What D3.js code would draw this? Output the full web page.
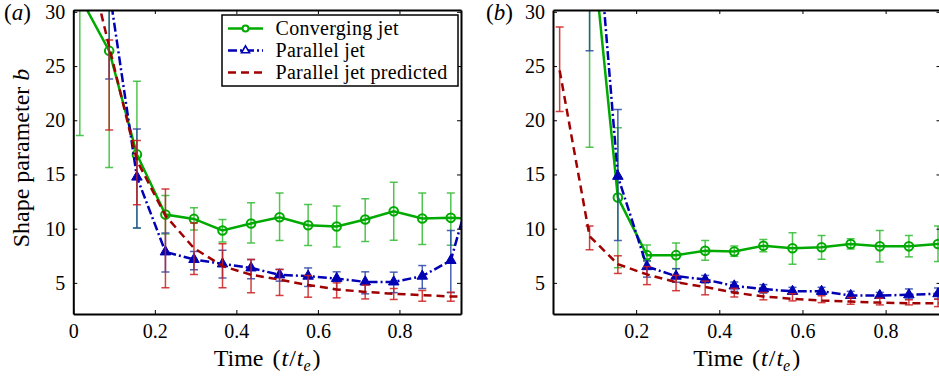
<!DOCTYPE html>
<html>
<head>
<meta charset="utf-8">
<script src="https://cdn.jsdelivr.net/npm/d3@7"></script>
<style>
  html, body { margin: 0; padding: 0; background: #fff; }
  svg { display: block; }
  svg text { font-family: "Liberation Serif", "Times New Roman", Tinos, "DejaVu Serif", serif; }
</style>
</head>
<body>
<svg id="chart" width="939" height="380"></svg>
<script>
// Sampling times (t / t_e), shared by every series
const times = [0.016, 0.088, 0.156, 0.226, 0.296, 0.366, 0.436, 0.506, 0.576, 0.646, 0.716, 0.786, 0.856, 0.926, 0.996];

// Panel (a)
const convA   = [31.4, 26.4, 16.85, 11.3, 10.9, 9.83, 10.48, 11.06, 10.32, 10.2, 10.85, 11.6, 10.94, 11.0, 10.9];
const convALo = [18.6, 15.65, 10.07, 9.5, 9.88, 8.76, 8.69, 8.91, 8.45, 8.32, 8.82, 8.94, 8.54, 8.48, null];
const convAHi = [44.0, 37.2, 23.6, 13.06, 11.92, 10.85, 12.38, 13.3, 12.23, 12.1, 12.75, 14.29, 13.3, 13.3, null];
const parA    = [null, 32.1, 14.76, 7.86, 7.16, 6.75, 6.38, 5.74, 5.62, 5.4, 5.09, 5.09, 5.62, 7.07, 16.4];
const parALo  = [null, 23.8, 10.07, 6.0, 6.2, 5.46, 5.37, 5.16, 4.67, 4.39, 3.99, 4.1, 4.48, 4.1, null];
const parAHi  = [null, 40.4, 19.2, 9.6, 7.9, 8.0, 7.16, 6.24, 6.38, 6.02, 6.02, 5.99, 6.6, 9.83, null];
const predA   = [38.0, 26.8, 16.3, 11.2, 8.2, 6.55, 5.75, 5.3, 4.8, 4.4, 4.17, 4.0, 3.87, 3.75, 3.7];
const predALo = [null, 19.1, 12.2, 4.54, 5.77, 4.54, 4.08, 3.84, 3.68, 3.62, 3.52, 3.47, 3.31, 3.31, null];
const predAHi = [null, 27.4, 18.13, 13.67, 10.53, 8.6, 7.16, 6.24, 5.68, 5.0, 4.79, 4.48, 4.3, 4.14, null];

// Panel (b)
const convB   = [null, 38.8, 12.87, 7.56, 7.56, 7.96, 7.9, 8.43, 8.19, 8.28, 8.59, 8.37, 8.37, 8.59, 8.7];
const convBLo = [null, 17.5, 6.4, 7.03, 6.31, 7.09, 7.45, 7.87, 6.72, 7.18, 8.12, 6.93, 7.4, 6.97, null];
const convBHi = [null, 60.0, 19.3, 8.5, 8.68, 8.9, 8.4, 9.0, 9.62, 9.37, 9.06, 9.84, 9.37, 10.25, null];
const parB    = [null, 46.7, 14.83, 6.5, 5.62, 5.31, 4.72, 4.44, 4.22, 4.22, 3.84, 3.84, 3.9, 4.0, 4.0];
const parBLo  = [null, 26.4, 8.9, 5.53, 5.06, 5.0, 4.22, 4.06, 3.97, 3.9, 3.59, 3.59, 3.5, 3.5, null];
const parBHi  = [null, 67.0, 21.0, 7.03, 6.31, 5.69, 5.08, 4.84, 4.59, 4.59, 4.22, 4.12, 4.44, 4.53, null];
const predB   = [24.6, 9.3, 6.72, 5.78, 5.06, 4.62, 4.1, 3.75, 3.53, 3.37, 3.28, 3.18, 3.12, 3.12, 3.1];
const predBLo = [20.8, 8.06, 5.87, 4.84, 4.28, 3.9, 3.7, 3.44, 3.34, 3.18, 3.03, 2.97, 2.97, 2.81, null];
const predBHi = [28.6, 10.25, 7.5, 6.5, 5.69, 5.16, 4.5, 4.12, 4.0, 3.81, 3.65, 3.59, 3.44, 3.5, null];

// Axis ticks and labels
const yTicks = [5, 10, 15, 20, 25, 30];
const xTicksA = [0, 0.2, 0.4, 0.6, 0.8];
const xTicksB = [0.2, 0.4, 0.6, 0.8];
const seriesNames = ["Converging jet", "Parallel jet", "Parallel jet predicted"];
const panelLetters = ["a", "b"];

const svg = d3.select("#chart");

const COL = {
  conv: "#00aa00", convBar: "#33bb33",
  par: "#0000b4", parBar: "#2a48a8",
  pred: "#a00000", predBar: "#cc1f1f"
};

const yDomain = [2.13, 30.17];
const yRange = [314, 10];

const panels = [
  { letter: panelLetters[0], left: 73.3, right: 461, xMax: 0.951, xTicks: xTicksA,
    conv: [convA, convALo, convAHi], par: [parA, parALo, parAHi], pred: [predA, predALo, predAHi],
    labelX: 4, showYTitle: true },
  { letter: panelLetters[1], left: 553, right: 940.5, xMax: 0.932, xTicks: xTicksB,
    conv: [convB, convBLo, convBHi], par: [parB, parBLo, parBHi], pred: [predB, predBLo, predBHi],
    labelX: 486, showYTitle: false }
];

function zip(vals, lo, hi) {
  return times.map((t, i) => ({ t, v: vals[i], lo: lo[i], hi: hi[i] }));
}

panels.forEach((p, pi) => {
  const x = d3.scaleLinear().domain([0, p.xMax]).range([p.left, p.right]);
  const y = d3.scaleLinear().domain(yDomain).range(yRange);
  const g = svg.append("g");

  const clipId = "clip" + pi;
  svg.append("clipPath").attr("id", clipId)
    .append("rect").attr("x", p.left).attr("y", yRange[1])
    .attr("width", p.right - p.left).attr("height", yRange[0] - yRange[1]);

  const plot = g.append("g").attr("clip-path", `url(#${clipId})`);

  const line = d3.line().defined(d => d.v != null).x(d => x(d.t)).y(d => y(d.v));

  function errorBars(data, color) {
    const eb = plot.append("g").attr("stroke", color).attr("stroke-width", 1.5)
      .attr("stroke-opacity", 0.85).attr("fill", "none");
    data.filter(d => d.lo != null && d.hi != null).forEach(d => {
      const cx = x(d.t);
      eb.append("line").attr("x1", cx).attr("x2", cx).attr("y1", y(d.lo)).attr("y2", y(d.hi));
      eb.append("line").attr("x1", cx - 4).attr("x2", cx + 4).attr("y1", y(d.lo)).attr("y2", y(d.lo));
      eb.append("line").attr("x1", cx - 4).attr("x2", cx + 4).attr("y1", y(d.hi)).attr("y2", y(d.hi));
    });
  }

  const conv = zip(...p.conv), par = zip(...p.par), pred = zip(...p.pred);

  // Converging jet: solid green with open circles
  errorBars(conv, COL.convBar);
  plot.append("path").datum(conv).attr("d", line)
    .attr("fill", "none").attr("stroke", COL.conv).attr("stroke-width", 2.5);
  plot.append("g").selectAll("circle").data(conv.filter(d => d.v != null)).join("circle")
    .attr("cx", d => x(d.t)).attr("cy", d => y(d.v)).attr("r", 4.3)
    .attr("fill", "none").attr("stroke", COL.conv).attr("stroke-width", 2);

  // Parallel jet: blue dash-dot with filled triangles
  errorBars(par, COL.parBar);
  plot.append("path").datum(par).attr("d", line)
    .attr("fill", "none").attr("stroke", COL.par).attr("stroke-width", 2.5)
    .attr("stroke-dasharray", "9,3,2,3");
  const tri = d3.symbol().type(d3.symbolTriangle).size(48);
  plot.append("g").selectAll("path").data(par.filter(d => d.v != null)).join("path")
    .attr("d", tri).attr("transform", d => `translate(${x(d.t)},${y(d.v)})`)
    .attr("fill", COL.par).attr("stroke", COL.par).attr("stroke-width", 1);

  // Predicted: dark red dashed
  errorBars(pred, COL.predBar);
  plot.append("path").datum(pred).attr("d", line)
    .attr("fill", "none").attr("stroke", COL.pred).attr("stroke-width", 2.5)
    .attr("stroke-dasharray", "8,5");

  // Axes: ticks point inward on all four sides
  const fmt = d => (d === 0 ? "0" : d3.format(".1f")(d));
  const axB = g.append("g").attr("transform", `translate(0,${yRange[0]})`)
    .call(d3.axisBottom(x).tickValues(p.xTicks).tickSizeInner(-4).tickSizeOuter(0).tickPadding(10).tickFormat(fmt));
  const axT = g.append("g").attr("transform", `translate(0,${yRange[1]})`)
    .call(d3.axisTop(x).tickValues(p.xTicks).tickSizeInner(-4).tickSizeOuter(0).tickFormat(""));
  const axL = g.append("g").attr("transform", `translate(${p.left},0)`)
    .call(d3.axisLeft(y).tickValues(yTicks).tickSizeInner(-4).tickSizeOuter(0).tickPadding(8).tickFormat(d3.format("d")));
  const axR = g.append("g").attr("transform", `translate(${p.right},0)`)
    .call(d3.axisRight(y).tickValues(yTicks).tickSizeInner(-4).tickSizeOuter(0).tickFormat(""));
  [axB, axT, axL, axR].forEach(a => {
    a.attr("font-family", null);
    a.select(".domain").attr("stroke", "#000").attr("stroke-width", 2);
    a.selectAll(".tick line").attr("stroke", "#000").attr("stroke-width", 1);
    a.selectAll("text").attr("font-size", 20).attr("fill", "#000");
  });

  // X-axis title
  const xt = g.append("text").attr("x", (p.left + p.right) / 2).attr("y", 366)
    .attr("text-anchor", "middle").attr("font-size", 24).attr("fill", "#000");
  xt.append("tspan").text("Time");
  xt.append("tspan").attr("dx", 9).text("(");
  xt.append("tspan").attr("dx", 1).attr("font-style", "italic").text("t");
  xt.append("tspan").attr("dx", 1).text("/");
  xt.append("tspan").attr("dx", 1).attr("font-style", "italic").text("t");
  xt.append("tspan").attr("font-style", "italic").attr("font-size", 16).attr("dy", 5).text("e");
  xt.append("tspan").attr("dx", 2).attr("dy", -5).text(")");

  // Panel letter
  const pl = g.append("text").attr("x", p.labelX).attr("y", 20).attr("font-size", 23).attr("fill", "#000");
  pl.append("tspan").text("(");
  pl.append("tspan").attr("font-style", "italic").text(p.letter);
  pl.append("tspan").text(")");

  if (p.showYTitle) {
    const yt = svg.append("text").attr("transform", "translate(29,158) rotate(-90)")
      .attr("text-anchor", "middle").attr("font-size", 24).attr("fill", "#000");
    yt.append("tspan").text("Shape parameter ");
    yt.append("tspan").attr("font-style", "italic").text("b");
  }
});

// Legend inside panel (a)
const lg = svg.append("g");
lg.append("rect").attr("x", 222).attr("y", 15).attr("width", 236).attr("height", 71)
  .attr("fill", "#fff").attr("stroke", "#000").attr("stroke-width", 1.5);
const rowsY = [28.5, 50.5, 72.5];
const lx0 = 228, lx1 = 263, lmid = (lx0 + lx1) / 2;
// Converging
lg.append("line").attr("x1", lx0).attr("x2", lx1).attr("y1", rowsY[0]).attr("y2", rowsY[0])
  .attr("stroke", COL.conv).attr("stroke-width", 2.5);
lg.append("circle").attr("cx", lmid).attr("cy", rowsY[0]).attr("r", 3)
  .attr("fill", "#fff").attr("stroke", COL.conv).attr("stroke-width", 2);
// Parallel
lg.append("line").attr("x1", lx0).attr("x2", lx1).attr("y1", rowsY[1]).attr("y2", rowsY[1])
  .attr("stroke", COL.par).attr("stroke-width", 2.5).attr("stroke-dasharray", "9,3,2,3");
lg.append("path").attr("d", d3.symbol().type(d3.symbolTriangle).size(28)())
  .attr("transform", `translate(${lmid},${rowsY[1]})`)
  .attr("fill", "#fff").attr("stroke", COL.par).attr("stroke-width", 1.6);
// Predicted
lg.append("line").attr("x1", lx0).attr("x2", lx1).attr("y1", rowsY[2]).attr("y2", rowsY[2])
  .attr("stroke", COL.pred).attr("stroke-width", 2.5).attr("stroke-dasharray", "8,5");
seriesNames.forEach((name, i) => {
  lg.append("text").attr("x", 275.5).attr("y", rowsY[i] + 6.5)
    .attr("font-size", 20).attr("letter-spacing", 0.3).attr("fill", "#000").text(name);
});
</script>
</body>
</html>
